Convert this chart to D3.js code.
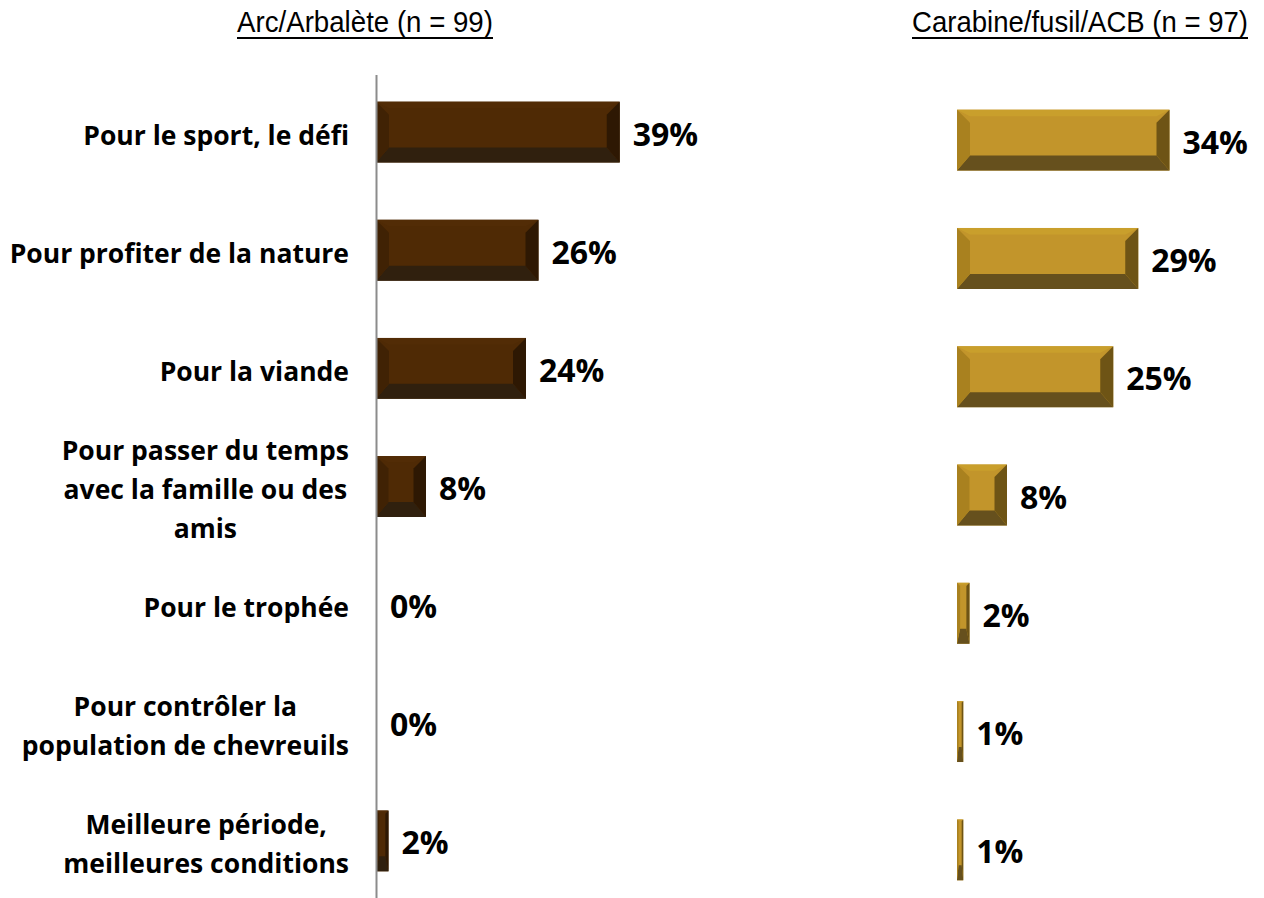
<!DOCTYPE html>
<html>
<head>
<meta charset="utf-8">
<script src="https://cdn.jsdelivr.net/npm/d3@7"></script>
<style>
  body { margin: 0; background: #fff; }
  svg { display: block; }
</style>
</head>
<body>
<div id="chart"></div>
<script>
const categories = [
  ['Pour le sport, le défi'],
  ['Pour profiter de la nature'],
  ['Pour la viande'],
  ['Pour passer du temps', 'avec la famille ou des', 'amis'],
  ['Pour le trophée'],
  ['Pour contrôler la', 'population de chevreuils'],
  ['Meilleure période,', 'meilleures conditions']
];
const arcValues = [39, 26, 24, 8, 0, 0, 2];
const fusilValues = [34, 29, 25, 8, 2, 1, 1];
const panelTitles = ['Arc/Arbalète (n = 99)', 'Carabine/fusil/ACB (n = 97)'];

const width = 1264, height = 898;
const labelFont = '"Open Sans", "Noto Sans", sans-serif';

const svg = d3.select('#chart').append('svg')
  .attr('width', width)
  .attr('height', height);

const x = d3.scaleLinear().domain([0, 40]).range([0, 250]);
const keys = d3.range(categories.length);

// colours for face / top / left / right / bottom
const palettes = [
  { face: '#4f2a05', top: '#522c06', left: '#402204', right: '#2e1803', bottom: '#30200e' },
  { face: '#c2952b', top: '#c99f2c', left: '#a9811f', right: '#6e5415', bottom: '#66501d' }
];

const panels = [
  { x0: 376, range: [73, 900], values: arcValues, pal: palettes[0], axis: true, titleX: 365, titleW: 256 },
  { x0: 957, range: [81, 909], values: fusilValues, pal: palettes[1], axis: false, titleX: 1080, titleW: 336 }
];

function bevelBar(g, x0, y0, w, h, pal) {
  const b = Math.min(13, w / 4);
  const bb = Math.min(15, h / 4);
  const x1 = x0 + w, y1 = y0 + h;
  g.append('rect').attr('x', x0).attr('y', y0).attr('width', w).attr('height', h).attr('fill', pal.face);
  g.append('polygon').attr('fill', pal.top)
    .attr('points', [[x0, y0], [x1, y0], [x1 - b, y0 + b / 2], [x0 + b, y0 + b / 2]].join(' '));
  g.append('polygon').attr('fill', pal.bottom)
    .attr('points', [[x0, y1], [x1, y1], [x1 - b, y1 - bb], [x0 + b, y1 - bb]].join(' '));
  g.append('polygon').attr('fill', pal.left)
    .attr('points', [[x0, y0], [x0 + b, y0 + b], [x0 + b, y1 - bb], [x0, y1]].join(' '));
  g.append('polygon').attr('fill', pal.right)
    .attr('points', [[x1, y0], [x1 - b, y0 + b], [x1 - b, y1 - bb], [x1, y1]].join(' '));
}

panels.forEach((p, pi) => {
  const y = d3.scaleBand().domain(keys).range(p.range).paddingInner(0.485).paddingOuter(0.2425);
  const g = svg.append('g');

  p.values.forEach((v, i) => {
    const w = x(v);
    if (v > 0) bevelBar(g.append('g'), p.x0, y(i), w, y.bandwidth(), p.pal);
    g.append('text')
      .attr('x', p.x0 + w + (v > 0 ? 13 : 14))
      .attr('y', y(i) + y.bandwidth() / 2 + 2)
      .attr('dy', '0.36em')
      .attr('font-family', labelFont)
      .attr('font-weight', 700)
      .attr('font-size', 32)
      .attr('fill', '#000')
      .text(v + '%');
  });

  if (p.axis) {
    g.append('line')
      .attr('x1', p.x0 + 0.5).attr('x2', p.x0 + 0.5)
      .attr('y1', 75).attr('y2', height)
      .attr('stroke', '#8c8c8c').attr('stroke-width', 2);

    // category labels, block right-aligned, lines centred
    const lineH = 39;
    categories.forEach((lines, i) => {
      const cy = y(i) + y.bandwidth() / 2 + 3;
      const t = g.append('text')
        .attr('font-family', labelFont)
        .attr('font-weight', 700)
        .attr('font-size', 26.5)
        .attr('fill', '#000')
        .attr('text-anchor', 'middle');
      lines.forEach((ln, k) => {
        t.append('tspan')
          .attr('y', cy + (k - (lines.length - 1) / 2) * lineH)
          .attr('dy', '0.36em')
          .text(ln);
      });
      const maxW = d3.max(t.selectAll('tspan').nodes(), n => n.getComputedTextLength());
      t.selectAll('tspan').attr('x', 349 - maxW / 2);
    });
  }

  // narrow title: squeeze a regular face horizontally to the reference width
  const title = svg.append('text')
    .attr('x', 0)
    .attr('y', 0)
    .attr('text-anchor', 'middle')
    .attr('font-family', '"Liberation Sans", Arial, sans-serif')
    .attr('font-size', 29)
    .attr('fill', '#000')
    .text(panelTitles[pi]);
  const sx = p.titleW / title.node().getComputedTextLength();
  title.attr('transform', `translate(${p.titleX},32) scale(${sx},1)`);
  svg.append('line')
    .attr('x1', p.titleX - p.titleW / 2).attr('x2', p.titleX + p.titleW / 2)
    .attr('y1', 38).attr('y2', 38)
    .attr('stroke', '#000').attr('stroke-width', 2);
});
</script>
</body>
</html>
